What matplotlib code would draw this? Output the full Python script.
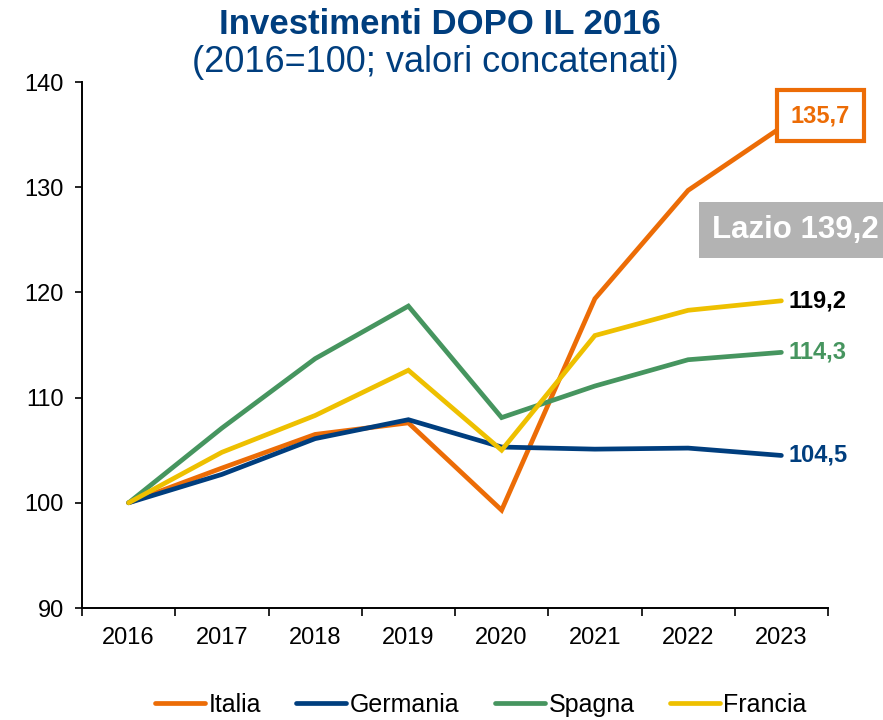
import matplotlib.pyplot as plt
import numpy as np

# data
years = ['2016', '2017', '2018', '2019', '2020', '2021', '2022', '2023']
italia = [100, 103.3, 106.5, 107.6, 99.3, 119.4, 129.7, 135.7]
germania = [100, 102.7, 106.1, 107.9, 105.3, 105.1, 105.2, 104.5]
spagna = [100, 107.1, 113.7, 118.7, 108.1, 111.1, 113.6, 114.3]
francia = [100, 104.8, 108.3, 112.6, 105.0, 115.9, 118.3, 119.2]
lazio_2023 = 139.2

c_ita = '#EC6C06'
c_ger = '#003E7E'
c_spa = '#46955F'
c_fra = '#EEC000'
navy = '#003E7E'

plt.rcParams['font.family'] = ['Liberation Sans', 'DejaVu Sans']

fig = plt.figure(figsize=(8.83, 7.2), dpi=100)
ax = fig.add_axes([82 / 883, 1 - 608 / 720, 746 / 883, 526 / 720])

x = np.arange(len(years))
series = [('Italia', italia, c_ita), ('Germania', germania, c_ger),
          ('Spagna', spagna, c_spa), ('Francia', francia, c_fra)]
for name, vals, col in series:
    ax.plot(x, vals, color=col, lw=3.4, label=name, solid_capstyle='round',
            solid_joinstyle='miter')

ax.set_xlim(-0.5, 7.5)
ax.set_ylim(90, 140)
ax.set_yticks(range(90, 141, 10))
ax.tick_params(axis='y', labelsize=17, length=5, width=1.2, direction='out', pad=8)
ax.set_xticks(x)
ax.set_xticklabels(years)
ax.set_xticks(np.arange(-0.5, 8, 1), minor=True)
ax.tick_params(axis='x', which='major', length=0, labelsize=17, pad=14)
ax.tick_params(axis='x', which='minor', length=6, width=1.2, direction='out')
for s in ['top', 'right']:
    ax.spines[s].set_visible(False)
for s in ['left', 'bottom']:
    ax.spines[s].set_linewidth(1.4)

# end labels
ax.text(7.1, italia[-1] + 1.1, f'{italia[-1]:.1f}'.replace('.', ','), color=c_ita,
        fontsize=17, fontweight='bold', va='center', ha='left',
        bbox=dict(boxstyle='square,pad=0.6', fc='white', ec=c_ita, lw=3))
ax.text(7.08, francia[-1], f'{francia[-1]:.1f}'.replace('.', ','), color='black',
        fontsize=17, fontweight='bold', va='center', ha='left')
ax.text(7.08, spagna[-1], f'{spagna[-1]:.1f}'.replace('.', ','), color=c_spa,
        fontsize=17, fontweight='bold', va='center', ha='left')
ax.text(7.08, germania[-1], f'{germania[-1]:.1f}'.replace('.', ','), color=c_ger,
        fontsize=17, fontweight='bold', va='center', ha='left')
fig.text(795 / 883, 1 - 230 / 720, 'Lazio ' + f'{lazio_2023:.1f}'.replace('.', ','),
         color='white', fontsize=22.5, fontweight='bold', va='center', ha='center',
         bbox=dict(boxstyle='square,pad=0.42', fc='#B3B3B3', ec='none'))

fig.text(440 / 883, 1 - 24 / 720, 'Investimenti DOPO IL 2016', color=navy, fontsize=25,
         fontweight='bold', ha='center', va='center')
fig.text(435 / 883, 1 - 62 / 720, '(2016=100; valori concatenati)', color=navy, fontsize=26,
         ha='center', va='center')

fig.legend(loc='center', bbox_to_anchor=(481 / 883, 1 - 705 / 720), ncol=4, frameon=False,
           fontsize=18, handlelength=2.0, handletextpad=0.15, columnspacing=1.4)

fig.savefig('out.png', dpi=100)
